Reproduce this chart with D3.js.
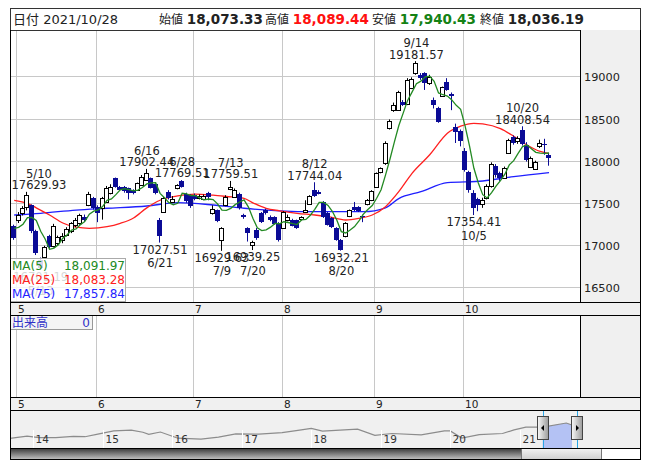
<!DOCTYPE html>
<html><head><meta charset="utf-8">
<script src="https://cdn.jsdelivr.net/npm/d3@7"></script>
<style>
body{margin:0;background:#fff;}
svg{display:block;}
text{font-family:"DejaVu Sans","Noto Sans CJK JP",sans-serif;}
</style>
</head><body>
<svg id="c" width="653" height="470"></svg>
<script>
// ---------------- data ----------------
const dates = ["4/30","5/6","5/7","5/10","5/11","5/12","5/13","5/14","5/17","5/18","5/19","5/20","5/21","5/24","5/25","5/26","5/27","5/28","5/31",
"6/1","6/2","6/3","6/4","6/7","6/8","6/9","6/10","6/11","6/14","6/15","6/16","6/17","6/18","6/21","6/22","6/23","6/24","6/25","6/28","6/29","6/30",
"7/1","7/2","7/5","7/6","7/7","7/8","7/9","7/12","7/13","7/14","7/15","7/16","7/19","7/20","7/21","7/26","7/27","7/28","7/29","7/30",
"8/2","8/3","8/4","8/5","8/6","8/10","8/11","8/12","8/13","8/16","8/17","8/18","8/19","8/20","8/23","8/24","8/25","8/26","8/27","8/30","8/31",
"9/1","9/2","9/3","9/6","9/7","9/8","9/9","9/10","9/13","9/14","9/15","9/16","9/17","9/21","9/22","9/24","9/27","9/28","9/29","9/30",
"10/1","10/4","10/5","10/6","10/7","10/8","10/11","10/12","10/13","10/14","10/15","10/18","10/19","10/20","10/21","10/22","10/25","10/26","10/27","10/28"];
const opens = [17220,17290,17380,17450,17470,17160,16820,16860,17100,16990,17020,17060,17120,17160,17240,17260,17330,17475,17555,
17455,17435,17515,17615,17790,17690,17690,17670,17650,17650,17710,17770,17790,17720,17300,17395,17630,17515,17672,17760,17610,17590,
17590,17555,17540,17620,17375,17410,17060,17470,17660,17570,17610,17355,17200,17000,17180,17375,17415,17335,17330,17255,
17200,17300,17300,17290,17310,17395,17490,17650,17630,17510,17375,17315,17195,17060,17105,17345,17455,17445,17345,17485,17535,
17692,17870,17970,18385,18603,18603,18702,18674,18860,19038,19018,19038,18919,18721,18622,18769,18939,18790,18400,18350,
18110,17860,17620,17540,17480,17560,17700,17940,17850,17800,18090,18280,18230,18360,18190,17930,17900,18170,18200,18073.33];
const highs = [17240,17390,17460,17629.93,17480,17180,16850,16990,17120,17250,17110,17140,17210,17270,17320,17370,17360,17630,17570,
17470,17570,17700,17720,17800,17700,17700,17680,17660,17740,17830,17902.44,17800,17730,17320,17570,17650,17580,17720,17769.51,17620,17600,
17610,17600,17600,17630,17470,17420,17210,17590,17759.51,17670,17620,17370,17210,17050,17200,17390,17430,17350,17340,17270,
17400,17360,17310,17300,17340,17530,17590,17744.04,17650,17520,17390,17330,17210,17070,17270,17420,17510,17460,17360,17545,17650,
17860,17920,18230,18490,18690,18830,18720,18980,18990,19181.57,19040,19050,19020,18750,18640,18880,18980,18810,18440,18370,
18150,17880,17650,17560,17560,17720,17980,17960,17870,17930,18260,18300,18290,18408.54,18220,18050,18000,18250,18260,18089.44];
const lows = [17060,17260,17350,17410,17140,16880,16701.19,16840,16960,16970,17000,17020,17100,17140,17210,17240,17270,17460,17420,
17270,17300,17500,17600,17680,17640,17620,17540,17600,17640,17700,17760,17670,17600,17027.51,17380,17540,17500,17660,17680,17500,17440,
17530,17540,17530,17530,17360,17270,16929.63,17460,17650,17560,17420,17310,17040,16939.25,17060,17260,17360,17280,17240,17040,
17190,17280,17220,17190,17290,17380,17480,17570,17600,17320,17230,17200,17050,16932.21,17090,17330,17400,17390,17270,17470,17520,
17680,17850,17950,18370,18580,18590,18650,18660,18850,19020,18960,18840,18900,18620,18450,18760,18830,18600,18210,18170,
17870,17620,17354.41,17400,17440,17540,17680,17800,17760,17790,18080,18190,18200,18180,17990,17920,17890,18150,18070,17940.43];
const closes = [17080,17360,17440,17590,17160,16900,16720,16980,16980,17230,17095,17110,17185,17255,17300,17355,17300,17610,17435,
17375,17555,17675,17690,17690,17655,17635,17615,17615,17730,17810,17850,17680,17620,17100,17555,17555,17550,17712,17690,17520,17460,
17540,17575,17580,17570,17430,17280,17200,17570,17690,17650,17435,17330,17140,17030,17080,17270,17375,17300,17250,17060,
17390,17330,17230,17200,17330,17420,17580,17580,17610,17335,17240,17215,17060,16940,17255,17415,17415,17405,17335,17535,17645,
17850,17910,18205,18476,18662,18820,18662,18959,18967,19157,18979,18919,18999,18662,18464,18872,18840,18770,18340,18230,
17890,17650,17440,17470,17530,17700,17960,17830,17800,17910,18250,18210,18265,18200,18010,18030,17990,18215,18185,18036.19];
const preCloses = [17300,17250,17200,17150];

const ma25Dates = ["4/30","5/10","5/12","5/17","5/20","5/25","5/28","6/3","6/8","6/11","6/16","6/21","6/25","7/1","7/7","7/12","7/16","7/20","7/27","7/30",
"8/5","8/12","8/17","8/23","8/26","8/31","9/3","9/8","9/13","9/17","9/27","9/30","10/5","10/7","10/13","10/18","10/21","10/26","10/28"];
const ma25Values = [17530,17494,17440,17355,17260,17210,17197,17216,17256,17320,17440,17530,17581,17604,17590,17575,17553,17500,17435,17405,
17375,17355,17335,17296,17316,17355,17454,17632,17850,18070,18326,18410,18444,18436,18380,18290,18187,18110,18083.28];
const ma75Dates = ["4/30","5/13","5/25","6/3","6/16","6/25","7/7","7/16","7/30","8/12","8/27","9/3","9/8","9/15","9/27","10/7","10/18","10/28"];
const ma75Values = [17355,17375,17414,17435,17462,17501,17474,17435,17405,17394,17394,17440,17550,17632,17739,17759,17810,17857.84];

const highMarkDates = ["5/10","6/16","6/28","7/13","8/12","9/14","10/20"];
const lowMarkDates = ["5/13","6/21","7/9","7/20","8/20","10/5"];

const priceTicks = [16500,17000,17500,18000,18500,19000];
const legendNames = ["MA(5)","MA(25)","MA(75)"];
const legendValues = ["18,091.97","18,083.28","17,857.84"];

const headerDate = "2021/10/28";
const headerLabels = ["始値","高値","安値","終値"];
const headerValues = ["18,073.33","18,089.44","17,940.43","18,036.19"];

const navDates = ["2013-09","2013-12","2014-02","2014-05","2014-08","2014-10","2014-12","2015-03","2015-06","2015-08","2015-09","2015-11",
"2016-02","2016-06","2016-09","2016-12","2017-04","2017-08","2017-11","2018-01","2018-03","2018-09","2018-12","2019-03","2019-08",
"2019-12","2020-01","2020-03","2020-06","2020-10","2020-12","2021-02","2021-05","2021-09","2021-10"];
const navValues = [11700,12800,12100,12100,12700,12500,13600,15200,15600,14600,13600,14700,
11800,11400,12300,13800,13700,14400,15600,16400,15100,16000,13100,14000,13400,
15200,15200,11900,13500,14000,15700,17000,17000,18900,18000];
const navYears = ["14","15","16","17","18","19","20","21"];

// ---------------- drawing ----------------
const svg = d3.select("#c");
const L = 11, R = 580, T = 31, B = 302;
const OUTR = 641;
const x = d3.scaleLinear().domain([-0.72, 128]).range([L, R]);
const y = d3.scaleLinear().domain([16322, 19540]).range([B, T]);
const idx = d => dates.indexOf(d);
const gridC = "#c8c8c8", panelC = "#f0f0f0", txtC = "#222";
const blueC = "#0b0b96", redC = "#ff2020", greenC = "#238a23", ma75C = "#1f1fff";

// header
svg.append("rect").attr("x",10.5).attr("y",8.5).attr("width",630).attr("height",22).attr("fill","#fff").attr("stroke","#333");
svg.append("text").attr("x",13).attr("y",24).attr("font-size",13).attr("fill",txtC).text("日付 " + headerDate);
const hx = [159, 265, 372, 480];
const hcol = [txtC, "#ff1010", "#148214", txtC];
headerLabels.forEach((lab,i)=>{
  const t = svg.append("text").attr("x",hx[i]).attr("y",24).attr("fill",txtC);
  t.append("tspan").attr("font-size",12).text(lab+" ");
  t.append("tspan").attr("font-size",13.5).attr("font-weight","bold").attr("fill",hcol[i]).text(headerValues[i]);
});

// panels backgrounds
svg.append("rect").attr("x",R).attr("y",30).attr("width",OUTR-R).attr("height",B-30).attr("fill",panelC);
svg.append("rect").attr("x",10).attr("y",B).attr("width",OUTR-10).attr("height",13).attr("fill",panelC);
svg.append("rect").attr("x",R).attr("y",315).attr("width",OUTR-R).attr("height",82).attr("fill",panelC);
svg.append("rect").attr("x",10).attr("y",397).attr("width",OUTR-10).attr("height",13).attr("fill",panelC);
svg.append("rect").attr("x",10).attr("y",410).attr("width",OUTR-10).attr("height",38).attr("fill",panelC);

// month boundaries
const monthStarts = [];
dates.forEach((d,i)=>{ if(i>0 && d.split("/")[0] !== dates[i-1].split("/")[0]) monthStarts.push(i); });
const monthBounds = monthStarts.map(i=>Math.round(x(i-0.5))+0.5);
const monthNames = monthStarts.map(i=>dates[i].split("/")[0]);

// grid main
const g = svg.append("g");
priceTicks.forEach(v=>{
  const yy = Math.round(y(v))+0.5;
  g.append("line").attr("x1",L).attr("x2",R).attr("y1",yy).attr("y2",yy).attr("stroke",gridC);
  svg.append("text").attr("x",584).attr("y",yy+4.5).attr("font-size",11.3).attr("fill",txtC).text(v);
});
monthBounds.forEach(mx=>{
  g.append("line").attr("x1",mx).attr("x2",mx).attr("y1",T).attr("y2",B).attr("stroke",gridC);
  g.append("line").attr("x1",mx).attr("x2",mx).attr("y1",315).attr("y2",397).attr("stroke",gridC);
});
// strip labels
[312.5, 407.5].forEach(by=>{
  monthBounds.forEach((mx,i)=>{
    svg.append("text").attr("x",mx+1.5).attr("y",by).attr("font-size",10.5).attr("fill",txtC).text(monthNames[i]);
  });
});

// clip
svg.append("clipPath").attr("id","pc").append("rect").attr("x",L).attr("y",T).attr("width",R-L).attr("height",B-T);
const pg = svg.append("g").attr("clip-path","url(#pc)");

// MA lines
const ma5 = closes.map((c,i)=>{
  const all = preCloses.concat(closes);
  const w = all.slice(i, i+5);
  return d3.mean(w);
});
const line = d3.line().x(d=>x(d[0])).y(d=>y(d[1]));
pg.append("path").datum(ma75Dates.map((d,i)=>[idx(d),ma75Values[i]]))
  .attr("d",line.curve(d3.curveMonotoneX)).attr("fill","none").attr("stroke",ma75C).attr("stroke-width",1.3);
pg.append("path").datum(ma25Dates.map((d,i)=>[idx(d),ma25Values[i]]))
  .attr("d",line.curve(d3.curveMonotoneX)).attr("fill","none").attr("stroke",redC).attr("stroke-width",1.3);

// candles
dates.forEach((d,i)=>{
  const cx = Math.round(x(i));
  const o=opens[i], c=closes[i], h=highs[i], l=lows[i];
  const up = c >= o;
  pg.append("line").attr("x1",cx-0.5).attr("x2",cx-0.5).attr("y1",y(h)).attr("y2",y(l))
    .attr("stroke", up ? "#000" : blueC).attr("stroke-width",1);
  const top = y(Math.max(o,c)), bot = y(Math.min(o,c));
  if(up){
    pg.append("rect").attr("x",cx-2.5).attr("y",Math.round(top)+0.5).attr("width",4)
      .attr("height",Math.max(1,Math.round(bot)-Math.round(top))).attr("fill","#fff").attr("stroke","#000");
  } else {
    pg.append("rect").attr("x",cx-3).attr("y",Math.round(top)).attr("width",5)
      .attr("height",Math.max(1,Math.round(bot)-Math.round(top))).attr("fill",blueC);
  }
});

pg.append("path").datum(ma5.map((v,i)=>[i,v]))
  .attr("d",d3.line().x(d=>x(d[0])).y(d=>y(d[1]))).attr("fill","none").attr("stroke",greenC).attr("stroke-width",1.3);

// high/low marks
const fmt = d3.format(".2f");
function mark(i, lines, baselines){
  const cx = x(i);
  const grp = pg.append("g");
  const ts = lines.map((s,k)=>grp.append("text").attr("y",baselines[k]).attr("font-size",11.5)
     .attr("fill",txtC).attr("text-anchor","middle").text(s));
  const w = d3.max(ts.map(t=>t.node().getComputedTextLength()));
  let c = cx;
  if(c - w/2 < L+0.5) c = L+0.5+w/2;
  if(c + w/2 > R-1) c = R-1-w/2;
  ts.forEach(t=>t.attr("x",c));
}
highMarkDates.forEach(d=>{
  const i = idx(d), yy = y(highs[i]);
  mark(i, [d, fmt(highs[i])], [yy-14, yy-2.6]);
});
lowMarkDates.forEach(d=>{
  const i = idx(d), yy = y(lows[i]);
  mark(i, [fmt(lows[i]), d], [yy+11, yy+24.5]);
});

// legend
svg.append("rect").attr("x",10.5).attr("y",258.5).attr("width",115).attr("height",43)
  .attr("fill","#fff").attr("fill-opacity",0.82).attr("stroke","#aaa");
const lc = [greenC, redC, ma75C];
legendNames.forEach((n,i)=>{
  svg.append("text").attr("x",12).attr("y",270+i*14).attr("font-size",12).attr("fill",lc[i]).text(n);
  svg.append("text").attr("x",125).attr("y",270+i*14).attr("font-size",12).attr("fill",lc[i]).attr("text-anchor","end").text(legendValues[i]);
});

// volume label box
svg.append("rect").attr("x",10.5).attr("y",315.5).attr("width",82).attr("height",14).attr("fill","#f4f4f4").attr("stroke","#999");
svg.append("text").attr("x",12).attr("y",327).attr("font-size",12).attr("fill","#3030c8").text("出来高");
svg.append("text").attr("x",90).attr("y",327).attr("font-size",12).attr("fill","#3030c8").attr("text-anchor","end").text("0");

// navigator
const parseM = d3.timeParse("%Y-%m");
const nx = d3.scaleTime().domain([new Date(2014,0,1), new Date(2021,0,1)]).range([33,520]);
const ny = d3.scaleLinear().domain([7227, 24984]).range([448,410]);
const navPts = navDates.map((d,i)=>[nx(parseM(d)), ny(navValues[i])]);
svg.append("clipPath").attr("id","nc").append("rect").attr("x",10).attr("y",410).attr("width",OUTR-10).attr("height",38);
const ng = svg.append("g").attr("clip-path","url(#nc)");
const selA = nx(new Date(2021,3,30)), selB = nx(new Date(2021,9,28));
svg.append("clipPath").attr("id","sc").append("rect").attr("x",selA).attr("y",410).attr("width",selB-selA).attr("height",38);
ng.append("path").datum(navPts).attr("clip-path","url(#sc)")
  .attr("d",d3.area().x(d=>d[0]).y0(448).y1(d=>d[1])).attr("fill","#b4c2f4");
ng.append("path").datum(navPts).attr("d",d3.line().x(d=>d[0]).y(d=>d[1]))
  .attr("fill","none").attr("stroke","#8c8c8c").attr("stroke-width",1.2);
navYears.forEach((yr,i)=>{
  const xx = Math.round(nx(new Date(2014+i,0,1)))+0.5;
  ng.append("line").attr("x1",xx).attr("x2",xx).attr("y1",430).attr("y2",448).attr("stroke","#fff");
  ng.append("text").attr("x",xx+2).attr("y",443).attr("font-size",10.5).attr("fill","#333").text(yr);
});
[selA, selB].forEach(sx=>{
  svg.append("line").attr("x1",Math.round(sx)+0.5).attr("x2",Math.round(sx)+0.5).attr("y1",410).attr("y2",448).attr("stroke","#2aa6e6");
});
const defs = svg.append("defs");
const hg = defs.append("linearGradient").attr("id","hg");
hg.append("stop").attr("offset","0").attr("stop-color","#fafafa");
hg.append("stop").attr("offset","1").attr("stop-color","#9a9a9a");
[[selA,-1],[selB,1]].forEach(([sx,dir])=>{
  const cx = Math.round(sx);
  svg.append("rect").attr("x",cx-5.5).attr("y",416.5).attr("width",11).attr("height",23)
    .attr("fill","url(#hg)").attr("stroke","#444");
  svg.append("path").attr("d", dir<0 ? `M${cx-2},428 L${cx+1},425 L${cx+1},431 Z` : `M${cx+2},428 L${cx-1},425 L${cx-1},431 Z`).attr("fill","#000");
});

// scrollbar
const sg = defs.append("linearGradient").attr("id","sg").attr("x1",0).attr("y1",0).attr("x2",0).attr("y2",1);
sg.append("stop").attr("offset","0").attr("stop-color","#3a3a3a");
sg.append("stop").attr("offset","1").attr("stop-color","#c4c4c4");
const tg = defs.append("linearGradient").attr("id","tg").attr("x1",0).attr("y1",0).attr("x2",0).attr("y2",1);
tg.append("stop").attr("offset","0").attr("stop-color","#f2f2f2");
tg.append("stop").attr("offset","1").attr("stop-color","#cfcfcf");
svg.append("rect").attr("x",10).attr("y",448).attr("width",OUTR-10).attr("height",12).attr("fill","#fff");
svg.append("rect").attr("x",10.5).attr("y",448.5).attr("width",511).attr("height",11).attr("fill","url(#sg)");
svg.append("rect").attr("x",521.5).attr("y",448.5).attr("width",80).attr("height",11).attr("fill","url(#tg)").attr("stroke","#777");

// frame lines
const fl = (x1,y1,x2,y2,c="#000")=>svg.append("line").attr("x1",x1).attr("y1",y1).attr("x2",x2).attr("y2",y2).attr("stroke",c);
fl(10.5,30,10.5,460); fl(640.5,30,640.5,460);
fl(10,B+0.5,OUTR,B+0.5); fl(10,315.5,OUTR,315.5);
fl(10,397.5,OUTR,397.5); fl(10,410.5,OUTR,410.5);
fl(10,448.5,OUTR,448.5); fl(10,459.5,OUTR,459.5);
fl(R+0.5,30,R+0.5,B); fl(R+0.5,315,R+0.5,397);
</script>
</body></html>
